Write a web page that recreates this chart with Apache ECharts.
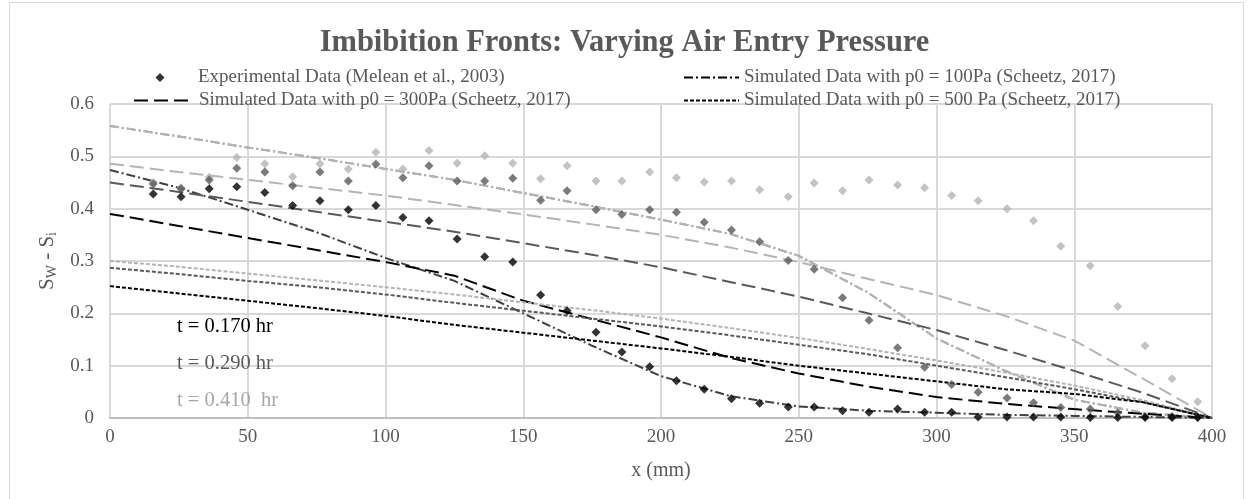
<!DOCTYPE html>
<html><head><meta charset="utf-8">
<script src="https://cdn.jsdelivr.net/npm/echarts@6/dist/echarts.min.js"></script>
<style>html,body{margin:0;padding:0;background:#fff}#c{width:1249px;height:499px}</style>
</head><body><div id="c"></div>
<script>
// ---- data ----
const X_EXP = [15.7,25.8,36.0,46.0,56.2,66.3,76.2,86.5,96.5,106.3,115.8,126.0,136.0,146.2,156.3,165.9,176.4,185.8,195.9,205.6,215.7,225.6,235.8,246.2,255.6,265.9,275.5,285.9,295.7,305.5,315.1,325.6,335.2,345.1,355.8,365.8,375.7,385.5,394.8];
const EXP_T170 = [0.428,0.423,0.438,0.442,0.431,0.406,0.415,0.398,0.406,0.383,0.377,0.342,0.308,0.298,0.235,0.205,0.164,0.126,0.098,0.071,0.055,0.037,0.028,0.021,0.021,0.014,0.011,0.017,0.011,0.011,0.002,0.002,0.002,0.002,0.001,0.001,0.001,0.001,0.001];
const EXP_T290 = [0.447,0.438,0.455,0.477,0.470,0.444,0.470,0.453,0.485,0.459,0.482,0.453,0.453,0.458,0.416,0.434,0.398,0.389,0.398,0.393,0.374,0.359,0.337,0.301,0.284,0.230,0.187,0.134,0.097,0.064,0.049,0.038,0.029,0.020,0.017,0.010,0.003,0.003,0.002];
const EXP_T410 = [0.450,0.440,0.460,0.498,0.486,0.461,0.486,0.476,0.508,0.476,0.511,0.487,0.501,0.487,0.457,0.482,0.453,0.453,0.470,0.459,0.451,0.453,0.436,0.423,0.449,0.434,0.455,0.445,0.440,0.425,0.415,0.400,0.377,0.328,0.291,0.213,0.138,0.075,0.031];

const X_SIM = [0,25,50,75,100,125,150,175,200,225,250,275,300,325,350,375,400];
const P100_T170 = [0.474,0.440,0.398,0.355,0.306,0.262,0.200,0.138,0.080,0.042,0.022,0.014,0.010,0.006,0.004,0.002,0];
const P100_T290 = [0.558,0.538,0.517,0.497,0.476,0.455,0.430,0.405,0.379,0.352,0.310,0.240,0.152,0.090,0.035,0.010,0];
const P100_T410 = [0.558,0.538,0.517,0.497,0.476,0.455,0.430,0.405,0.379,0.352,0.310,0.240,0.152,0.090,0.035,0.010,0];
const P300_T170 = [0.390,0.367,0.344,0.321,0.298,0.272,0.224,0.189,0.154,0.115,0.085,0.060,0.040,0.027,0.017,0.008,0];
const P300_T290 = [0.450,0.432,0.413,0.394,0.375,0.356,0.334,0.312,0.288,0.260,0.232,0.200,0.168,0.130,0.090,0.048,0];
const P300_T410 = [0.486,0.470,0.455,0.440,0.425,0.407,0.389,0.370,0.350,0.326,0.298,0.266,0.235,0.195,0.148,0.075,0];
const P500_T170 = [0.252,0.238,0.224,0.210,0.195,0.178,0.163,0.148,0.133,0.117,0.100,0.085,0.070,0.055,0.046,0.030,0];
const P500_T290 = [0.287,0.275,0.262,0.250,0.236,0.220,0.205,0.190,0.175,0.158,0.140,0.122,0.100,0.078,0.055,0.030,0];
const P500_T410 = [0.300,0.289,0.276,0.263,0.250,0.236,0.221,0.206,0.190,0.172,0.153,0.132,0.110,0.087,0.062,0.034,0];

const Y_TICKS = ['0','0.1','0.2','0.3','0.4','0.5','0.6'];
const NAMES = ['Experimental Data (Melean et al., 2003)','Simulated Data with p0 = 100Pa (Scheetz, 2017)','Simulated Data with p0 = 300Pa (Scheetz, 2017)','Simulated Data with p0 = 500 Pa (Scheetz, 2017)'];
const TIME_LABELS = ['t = 0.170 hr','t = 0.290 hr','t = 0.410  hr'];

// ---- build ----
const C_BLACK = '#000000', C_DARK = '#595959', C_LIGHT = '#b4b4b4';
const FONT = '"Liberation Serif","Times New Roman",serif';
const zip = (xs, ys) => xs.map((x, i) => [x, ys[i]]);
const DASHDOT = [9,3,2,3], LONG = [14,6], SHORT = [4,2];

function sc(name, ys, color, z) {
  return {type:'scatter', name, data: zip(X_EXP, ys), symbol:'diamond', symbolSize:9,
    itemStyle:{color}, z};
}
function ln(name, ys, color, dash, z) {
  return {type:'line', name, data: zip(X_SIM, ys), showSymbol:false, symbol:'none',
    lineStyle:{color, width:2, type:dash}, itemStyle:{color}, z: z || 3, smooth:false};
}

const series = [
  sc('exp410', EXP_T410, C_LIGHT, 4),
  sc('exp290', EXP_T290, C_DARK, 5),
  sc(NAMES[0], EXP_T170, C_BLACK, 6),
  ln('p100_290', P100_T290, '#8c8c8c', DASHDOT, 2),
  ln('p100_410', P100_T410, C_LIGHT, DASHDOT),
  ln(NAMES[1], P100_T170, '#404040', DASHDOT),
  ln('p300_410', P300_T410, C_LIGHT, LONG),
  ln('p300_290', P300_T290, C_DARK, LONG),
  ln(NAMES[2], P300_T170, C_BLACK, LONG),
  ln('p500_410', P500_T410, C_LIGHT, SHORT),
  ln('p500_290', P500_T290, C_DARK, SHORT),
  ln(NAMES[3], P500_T170, C_BLACK, SHORT),
];

const legendText = {fontFamily: FONT, fontSize: 19, color: '#595959'};
function lineLegend(name, left, top, w) {
  return {data: [name], left, top, itemWidth: w, itemHeight: 10, textStyle: legendText,
    itemStyle: {opacity: 0}, lineStyle: {color: '#000', width: 2}, selectedMode: false};
}
const option = {
  animation: false,
  backgroundColor: '#fff',
  title: {text: 'Imbibition Fronts: Varying Air Entry Pressure', left: 'center', top: 23,
    textStyle: {fontFamily: FONT, fontSize: 30.5, fontWeight: 'bold', color: '#595959'}},
  legend: [
    {data: [{name: NAMES[0], icon: 'path://M0 5 L0.01 5 Z M60 5 L59.99 5 Z M27 0.5 L31.5 5 L27 9.5 L22.5 5 Z'}],
      left: 128, top: 63, itemWidth: 60, itemHeight: 10, textStyle: legendText, selectedMode: false},
    lineLegend(NAMES[2], 128, 86, 60),
    lineLegend(NAMES[1], 678, 63, 55),
    lineLegend(NAMES[3], 678, 86, 55)
  ],
  grid: {left: 110, right: 37, top: 104, bottom: 81},
  xAxis: {type: 'value', min: 0, max: 400, interval: 50,
    name: 'x (mm)', nameLocation: 'middle', nameGap: 43,
    nameTextStyle: {fontFamily: FONT, fontSize: 20, color: '#595959'},
    axisLine: {lineStyle: {color: '#bfbfbf', width: 2}}, axisTick: {show: false},
    axisLabel: {fontFamily: FONT, fontSize: 19, color: '#595959', margin: 10},
    splitLine: {show: true, lineStyle: {color: '#d9d9d9', width: 2}}},
  yAxis: {type: 'value', min: 0, max: 0.6, interval: 0.1,
    name: 'S{sub|W} - S{sub|i}', nameLocation: 'middle', nameGap: 50, nameRotate: 90,
    nameTextStyle: {fontFamily: FONT, fontSize: 21, color: '#595959',
      rich: {sub: {fontFamily: FONT, fontSize: 14, color: '#595959', verticalAlign: 'bottom', padding: [10,0,0,0]}}},
    axisLine: {show: false}, axisTick: {show: false},
    axisLabel: {fontFamily: FONT, fontSize: 19, color: '#595959', margin: 16,
      formatter: (v) => Y_TICKS[Math.round(v * 10)]},
    splitLine: {show: true, lineStyle: {color: '#d9d9d9', width: 2}}},
  graphic: [
    {type: 'rect', left: 7, top: 0, shape: {width: 1234, height: 498}, style: {fill: 'none', stroke: '#d9d9d9', lineWidth: 1}, silent: true, z: -1},
    {type: 'text', left: 177, top: 316, z: 100, style: {text: TIME_LABELS[0], fontSize: 20.5, fontFamily: FONT, fill: '#000000'}},
    {type: 'text', left: 177, top: 353, z: 100, style: {text: TIME_LABELS[1], fontSize: 20.5, fontFamily: FONT, fill: '#595959'}},
    {type: 'text', left: 177, top: 390, z: 100, style: {text: TIME_LABELS[2], fontSize: 20.5, fontFamily: FONT, fill: '#a6a6a6'}}
  ],
  series
};
const chart = echarts.init(document.getElementById('c'), null, {renderer: 'canvas'});
chart.setOption(option);
</script></body></html>
